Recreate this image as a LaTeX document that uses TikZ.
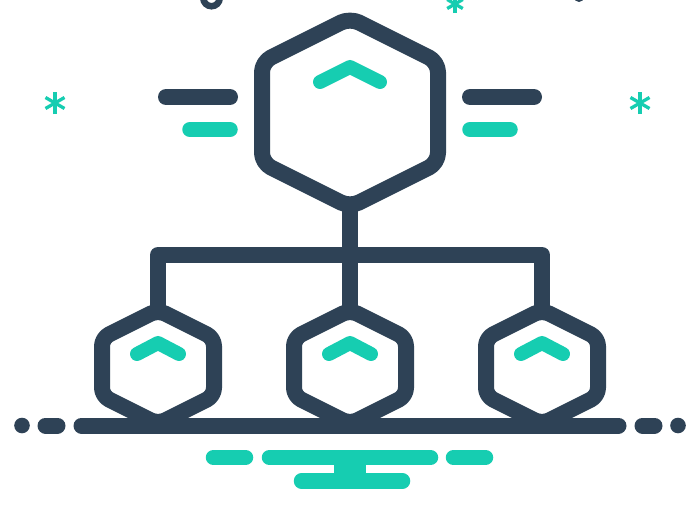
\documentclass[tikz,border=0pt]{standalone}
\usetikzlibrary{calc}
\definecolor{navy}{RGB}{46,66,86}
\definecolor{mint}{RGB}{22,205,177}
\begin{document}
\begin{tikzpicture}[x=1pt,y=-1pt,
  darkline/.style={draw=navy,line width=16pt,line cap=round,line join=round},
  mintline/.style={draw=mint,line width=15.5pt,line cap=round},
  chev/.style={draw=mint,line width=14pt,line cap=round,line join=round},
  starline/.style={draw=mint,line width=3.3pt}]
\useasboundingbox (0,0) rectangle (697,506);
\fill[white] (0,0) rectangle (697,506);
\begin{scope}
\clip (0,0) rectangle (697,506);
% top cut-off details
\draw[navy,line width=6.5pt] (211.5,-2) circle (8.25);
\fill[navy] (579,-3) circle (5);
\begin{scope}[shift={(455,4)}]
\foreach \a in {90,30,150}{
  \draw[starline] (\a:9) -- (\a+180:9);}
\end{scope}
\end{scope}
% side asterisks
\foreach \px in {55,640}{
  \begin{scope}[shift={(\px,103)}]
  \foreach \a in {90,30,150}{
    \draw[starline] (\a:11) -- (\a+180:11);}
  \end{scope}}
% side dashes
\draw[darkline] (166,97) -- (230,97);
\draw[mintline] (190,129.5) -- (230,129.5);
\draw[darkline] (470,97) -- (534,97);
\draw[mintline] (470,129.5) -- (510,129.5);
% connectors
\coordinate (bigB) at (350,207);
\coordinate (lT) at (158,310);
\coordinate (mT) at (350,310);
\coordinate (rT) at (542,310);
\coordinate (lC) at (158,255);
\coordinate (rC) at (542,255);
\draw[darkline,line cap=butt] (bigB) -- (mT);
\draw[darkline,line cap=butt] (lT) -- (lC) -- (rC) -- (rT);
% big hexagon
\draw[darkline,fill=white,rounded corners=10] (350,18) -- (438,62) -- (438,163) -- (bigB) -- (262,163) -- (262,62) -- cycle;
\draw[chev] (320,82) -- (350,67) -- (380,82);
% base line
\draw[darkline] (81.5,425.5) -- (618.5,425.5);
\draw[darkline] (45.5,425.5) -- (57.5,425.5);
\draw[darkline] (642.5,425.5) -- (654.5,425.5);
\fill[navy] (22,425.5) circle (7.8);
\fill[navy] (678,425.5) circle (7.8);
% small hexagons
\foreach \cx in {158,350,542}{
  \draw[darkline,fill=white,rounded corners=8] (\cx,310) -- (\cx+56,338) -- (\cx+56,396) -- (\cx,424) -- (\cx-56,396) -- (\cx-56,338) -- cycle;
  \draw[chev] (\cx-21,354) -- (\cx,343) -- (\cx+21,354);
}
% teal bottom
\fill[mint] (334,457.5) rectangle (366,481);
\draw[mintline] (213.5,457.5) -- (245.5,457.5);
\draw[mintline] (269.5,457.5) -- (430.5,457.5);
\draw[mintline] (453.5,457.5) -- (485.5,457.5);
\draw[mintline] (301.5,481) -- (402.5,481);
\end{tikzpicture}
\end{document}
